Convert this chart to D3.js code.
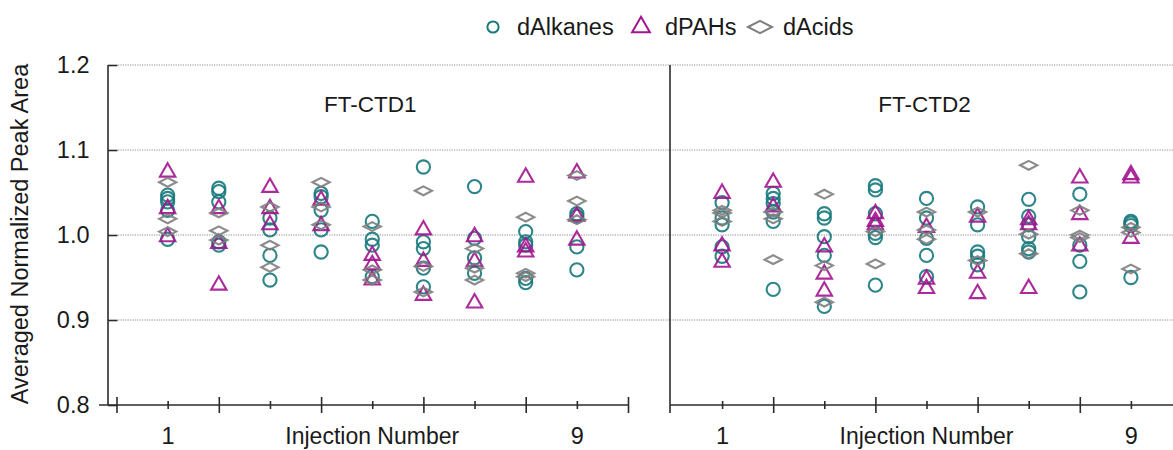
<!DOCTYPE html>
<html>
<head>
<meta charset="utf-8">
<script src="https://cdn.jsdelivr.net/npm/d3@7"></script>
<style>
  html, body { margin: 0; padding: 0; background: #fff; }
  svg { display: block; }
  text { font-family: "Liberation Sans", Arial, sans-serif; fill: #1a1a1a; }
</style>
</head>
<body>
<svg id="chart" width="1173" height="450"></svg>
<script>
// Injection numbers on the x axis
const injections = [1, 2, 3, 4, 5, 6, 7, 8, 9];
const xTickLabels = { 1: "1", 9: "9" };
const yTicks = [0.8, 0.9, 1.0, 1.1, 1.2];
const panelTitles = ["FT-CTD1", "FT-CTD2"];
const seriesNames = ["dAlkanes", "dPAHs", "dAcids"];

// FT-CTD1: averaged normalized peak areas, one list per injection
const ctd1Alkanes = [
  [1.047, 1.043, 1.039, 1.029, 0.995],
  [1.055, 1.051, 1.039, 0.992, 0.988],
  [1.020, 1.006, 0.976, 0.947],
  [1.049, 1.045, 1.029, 1.006, 0.980],
  [1.016, 0.995, 0.988, 0.951],
  [1.080, 0.992, 0.984, 0.961, 0.939],
  [1.057, 0.996, 0.973, 0.955],
  [1.004, 0.992, 0.988, 0.949, 0.944],
  [1.025, 1.022, 0.986, 0.959]
];
const ctd1PAHs = [
  [1.074, 1.031, 0.998],
  [1.031, 0.990, 0.941],
  [1.056, 1.031, 1.012],
  [1.041, 1.011],
  [0.976, 0.965, 0.947],
  [1.006, 0.969, 0.929],
  [0.998, 0.969, 0.920],
  [1.068, 0.986, 0.980],
  [1.073, 1.022, 0.994]
];
const ctd1Acids = [
  [1.062, 1.019, 1.004],
  [1.026, 1.005, 0.994],
  [1.033, 0.988, 0.962],
  [1.062, 1.033, 1.012],
  [1.010, 0.959, 0.947],
  [1.052, 0.963, 0.933],
  [0.984, 0.961, 0.947],
  [1.021, 0.955, 0.951],
  [1.070, 1.040, 1.018]
];

// FT-CTD2
const ctd2Alkanes = [
  [1.038, 1.020, 1.012, 0.986, 0.975],
  [1.049, 1.043, 1.037, 1.027, 1.016, 0.936],
  [1.025, 1.020, 0.998, 0.976, 0.916],
  [1.058, 1.053, 1.025, 1.002, 0.997, 0.941],
  [1.043, 1.020, 0.996, 0.976, 0.951],
  [1.033, 1.012, 0.980, 0.975, 0.965],
  [1.042, 1.022, 1.012, 0.998, 0.984, 0.980],
  [1.048, 0.988, 0.969, 0.933],
  [1.016, 1.014, 1.011, 0.950]
];
const ctd2PAHs = [
  [1.049, 0.987, 0.968],
  [1.062, 1.033],
  [0.986, 0.954, 0.934],
  [1.025, 1.016, 1.012],
  [1.009, 0.948, 0.937],
  [1.021, 0.955, 0.931],
  [1.018, 1.012, 0.937],
  [1.067, 1.024, 0.987],
  [1.071, 1.067, 0.996]
];
const ctd2Acids = [
  [1.029, 1.026, 1.016],
  [1.027, 1.019, 0.971],
  [1.048, 0.964, 0.921],
  [1.004, 0.966],
  [1.027, 1.006, 0.995],
  [1.027, 0.970],
  [1.082, 1.001, 0.978],
  [1.029, 1.000, 0.997],
  [1.009, 1.003, 0.960]
];

const panelData = [
  [ctd1Alkanes, ctd1PAHs, ctd1Acids],
  [ctd2Alkanes, ctd2PAHs, ctd2Acids]
];

// ---- styling ----
const colors = ["#17797c", "#a3148f", "#7f7f7f"];
const markerShape = ["circle", "triangle", "diamond"];
const axisColor = "#2b2b2b";
const fontSize = 23.5;

// marker path generators (centered at 0,0)
function markerPath(shape, s) {
  if (shape === "circle") {
    const r = 6.6 * s;
    return `M${r},0A${r},${r} 0 1,1 ${-r},0A${r},${r} 0 1,1 ${r},0Z`;
  }
  if (shape === "triangle") {
    const w = 7.7 * s, hTop = 8.9 * s, hBot = 4.5 * s;
    return `M0,${-hTop}L${w},${hBot}L${-w},${hBot}Z`;
  }
  const w = 8.6 * s, h = 4.4 * s;
  return `M${-w},0L0,${-h}L${w},0L0,${h}Z`;
}

const svg = d3.select("#chart");
const W = 1173;

const y = d3.scaleLinear().domain([0.8, 1.2]).range([405, 65]);
const xScales = [
  d3.scaleLinear().domain([0, 10]).range([116.5, 628]),
  d3.scaleLinear().domain([0, 10]).range([671, 1182])
];
const yAxisX = [108, 670];

// dotted gridlines across both panels
svg.append("g").selectAll("line")
  .data(yTicks.filter(v => v > 0.8))
  .join("line")
  .attr("x1", 118).attr("x2", W)
  .attr("y1", d => y(d)).attr("y2", d => y(d))
  .attr("stroke", "#8c8c8c")
  .attr("stroke-width", 1)
  .attr("stroke-dasharray", "1.2,1.2");

// left y axis (panel 1) with crossing ticks
const yAxisG = svg.append("g")
  .attr("transform", `translate(${yAxisX[0]},0)`)
  .call(d3.axisLeft(y).tickValues(yTicks).tickFormat(d3.format(".1f")).tickSize(9.5).tickPadding(9));
yAxisG.select(".domain").remove();
yAxisG.selectAll(".tick line").attr("x2", 9.5).attr("stroke", axisColor).attr("stroke-width", 1.6);
yAxisG.selectAll(".tick text")
  .attr("font-size", fontSize).attr("font-family", "Liberation Sans, Arial, sans-serif")
  .attr("fill", "#1a1a1a");
yAxisG.append("line")
  .attr("x1", 0).attr("x2", 0).attr("y1", y(1.2)).attr("y2", y(0.8))
  .attr("stroke", axisColor).attr("stroke-width", 1.6);

// panel 2 y axis: plain vertical line
svg.append("line")
  .attr("x1", yAxisX[1]).attr("x2", yAxisX[1])
  .attr("y1", y(1.2)).attr("y2", y(0.8) + 8)
  .attr("stroke", axisColor).attr("stroke-width", 1.6);

// x axes
xScales.forEach((x, p) => {
  const start = p === 0 ? 99 : yAxisX[1];
  const end = p === 0 ? x(10) : W;
  const g = svg.append("g").attr("transform", `translate(0,${y(0.8)})`);
  g.append("line").attr("x1", start).attr("x2", end)
    .attr("stroke", axisColor).attr("stroke-width", 1.6);
  const tickVals = d3.range(0, 11).filter(v => !(p === 1 && v === 0) && x(v) <= W);
  const ax = g.append("g").call(
    d3.axisBottom(x).tickValues(tickVals).tickSize(0).tickPadding(0)
      .tickFormat(d => xTickLabels[d] || "")
  );
  ax.select(".domain").remove();
  ax.selectAll(".tick line")
    .attr("y1", d => d % 2 === 0 ? -8 : -4)
    .attr("y2", d => d % 2 === 0 ? 8 : 4)
    .attr("stroke", axisColor).attr("stroke-width", 1.6);
  ax.selectAll(".tick text")
    .attr("y", 39).attr("dy", 0)
    .attr("font-size", fontSize).attr("font-family", "Liberation Sans, Arial, sans-serif")
    .attr("fill", "#1a1a1a");
  // axis title centred under injection 5
  svg.append("text")
    .attr("x", x(5)).attr("y", 444)
    .attr("text-anchor", "middle")
    .attr("font-size", 23)
    .text("Injection Number");
  // panel title
  svg.append("text")
    .attr("x", x(5) - 2).attr("y", 112)
    .attr("text-anchor", "middle")
    .attr("font-size", 22.5)
    .text(panelTitles[p]);
});

// y axis title
svg.append("text")
  .attr("transform", `translate(28,234) rotate(-90)`)
  .attr("text-anchor", "middle")
  .attr("font-size", fontSize)
  .text("Averaged Normalized Peak Area");

// data markers
panelData.forEach((seriesList, p) => {
  const x = xScales[p];
  seriesList.forEach((cols, s) => {
    const pts = [];
    cols.forEach((vals, i) => vals.forEach(v => pts.push({ inj: injections[i], v })));
    svg.append("g").selectAll("path")
      .data(pts)
      .join("path")
      .attr("transform", d => `translate(${x(d.inj)},${y(d.v)})`)
      .attr("d", markerPath(markerShape[s], 1))
      .attr("fill", "none")
      .attr("stroke", colors[s])
      .attr("stroke-width", 2.1)
      .attr("stroke-opacity", 0.9);
  });
});

// legend
const legendItems = [
  { mx: 493, tx: 517, scale: 0.85 },
  { mx: 641, tx: 665, scale: 1.15 },
  { mx: 760, tx: 783, scale: 1.4 }
];
const lg = svg.append("g");
seriesNames.forEach((name, s) => {
  const it = legendItems[s];
  lg.append("path")
    .attr("transform", `translate(${it.mx},27)`)
    .attr("d", markerPath(markerShape[s], it.scale))
    .attr("fill", "none")
    .attr("stroke", colors[s])
    .attr("stroke-width", 2);
  lg.append("text")
    .attr("x", it.tx).attr("y", 35)
    .attr("font-size", fontSize)
    .text(name);
});
</script>
</body>
</html>
